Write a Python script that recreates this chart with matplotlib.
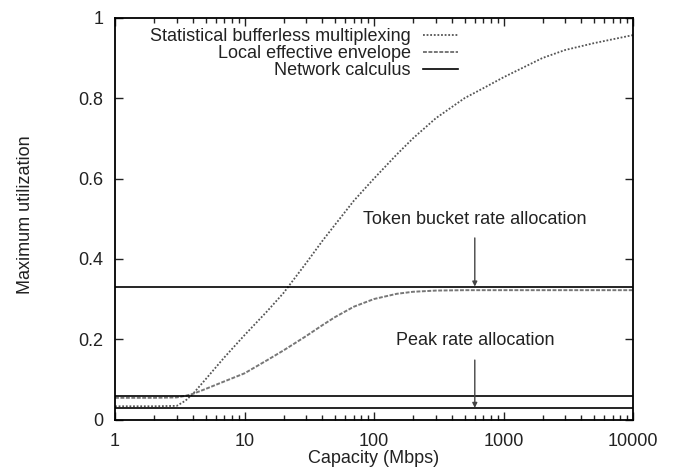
import matplotlib
matplotlib.use("Agg")
import matplotlib.pyplot as plt
import numpy as np
from matplotlib.ticker import LogLocator, FixedLocator, NullFormatter

plt.rcParams['font.family'] = ['Liberation Sans', 'DejaVu Sans']

# Data
capacity = [1, 2, 3, 3.5, 4, 5, 7, 10, 15, 20, 30, 40, 50, 70, 100, 150, 200,
            300, 500, 700, 1000, 2000, 3000, 5000, 10000]
statistical = [0.033, 0.033, 0.034, 0.047, 0.064, 0.10, 0.155, 0.21, 0.27, 0.315,
               0.39, 0.445, 0.485, 0.545, 0.60, 0.66, 0.70, 0.75, 0.80, 0.825,
               0.852, 0.90, 0.92, 0.937, 0.957]
local_env = [0.054, 0.054, 0.055, 0.059, 0.064, 0.076, 0.095, 0.115, 0.148, 0.172,
             0.208, 0.235, 0.255, 0.281, 0.300, 0.313, 0.318, 0.321, 0.322, 0.322,
             0.322, 0.322, 0.322, 0.322, 0.322]
netcalc_levels = [0.331, 0.059, 0.029]

x_ticks = [1, 10, 100, 1000, 10000]
x_ticklabels = ['1', '10', '100', '1000', '10000']
y_ticks = [0, 0.2, 0.4, 0.6, 0.8, 1]
y_ticklabels = ['0', '0.2', '0.4', '0.6', '0.8', '1']

FS = 13
TXT = '#222222'

fig = plt.figure(figsize=(6.73, 4.69), dpi=100)
ax = fig.add_axes([0.1709, 0.1055, 0.7697, 0.8565])

ax.plot(capacity, statistical, linestyle=(0, (1, 1)), color='#555555', lw=1.3,
        label='Statistical bufferless multiplexing')
ax.plot(capacity, local_env, linestyle=(0, (2, 0.8)), color='#777777', lw=1.4,
        label='Local effective envelope')
for i, lvl in enumerate(netcalc_levels):
    ax.plot([capacity[0], capacity[-1]], [lvl, lvl], color='black', lw=1.2,
            label='Network calculus' if i == 0 else None)

ax.set_xscale('log')
ax.set_xlim(1, 10000)
ax.set_ylim(0, 1)
ax.xaxis.set_major_locator(FixedLocator(x_ticks))
ax.set_xticklabels(x_ticklabels)
ax.xaxis.set_minor_locator(LogLocator(base=10, subs=np.arange(2, 10), numticks=20))
ax.xaxis.set_minor_formatter(NullFormatter())
ax.set_yticks(y_ticks)
ax.set_yticklabels(y_ticklabels)

ax.tick_params(which='both', direction='in', top=True, right=True,
               labelsize=FS, colors=TXT)
ax.tick_params(axis='x', which='both', pad=10)
ax.tick_params(axis='y', which='both', pad=8.5)
ax.tick_params(which='major', length=6, width=1.0)
ax.tick_params(which='minor', length=3.5, width=1.0)
for s in ax.spines.values():
    s.set_linewidth(1.3)

ax.set_xlabel('Capacity (Mbps)', fontsize=FS, color=TXT)
ax.xaxis.set_label_coords(0.5, -0.076)
ax.set_ylabel('Maximum utilization', fontsize=FS, color=TXT)
ax.yaxis.set_label_coords(-0.156, 0.51)

# Annotations
ax.text(600, 0.497, 'Token bucket rate allocation', ha='center', va='center',
        fontsize=FS, color=TXT)
ax.annotate('', xy=(600, 0.331), xytext=(600, 0.452),
            arrowprops=dict(arrowstyle='-|>', color='#444444', lw=1.0,
                            mutation_scale=7, shrinkA=0, shrinkB=0))
ax.text(600, 0.197, 'Peak rate allocation', ha='center', va='center',
        fontsize=FS, color=TXT)
ax.annotate('', xy=(600, 0.029), xytext=(600, 0.148),
            arrowprops=dict(arrowstyle='-|>', color='#444444', lw=1.0,
                            mutation_scale=7, shrinkA=0, shrinkB=0))

leg = ax.legend(loc='upper right', bbox_to_anchor=(0.662, 0.975), frameon=False,
                fontsize=FS, handlelength=1.94, handletextpad=0.67,
                labelspacing=0.0, markerfirst=False, borderaxespad=0,
                borderpad=0)
for t in leg.get_texts():
    t.set_color(TXT)
    t.set_ha('right')

fig.savefig('out.png', dpi=100)
